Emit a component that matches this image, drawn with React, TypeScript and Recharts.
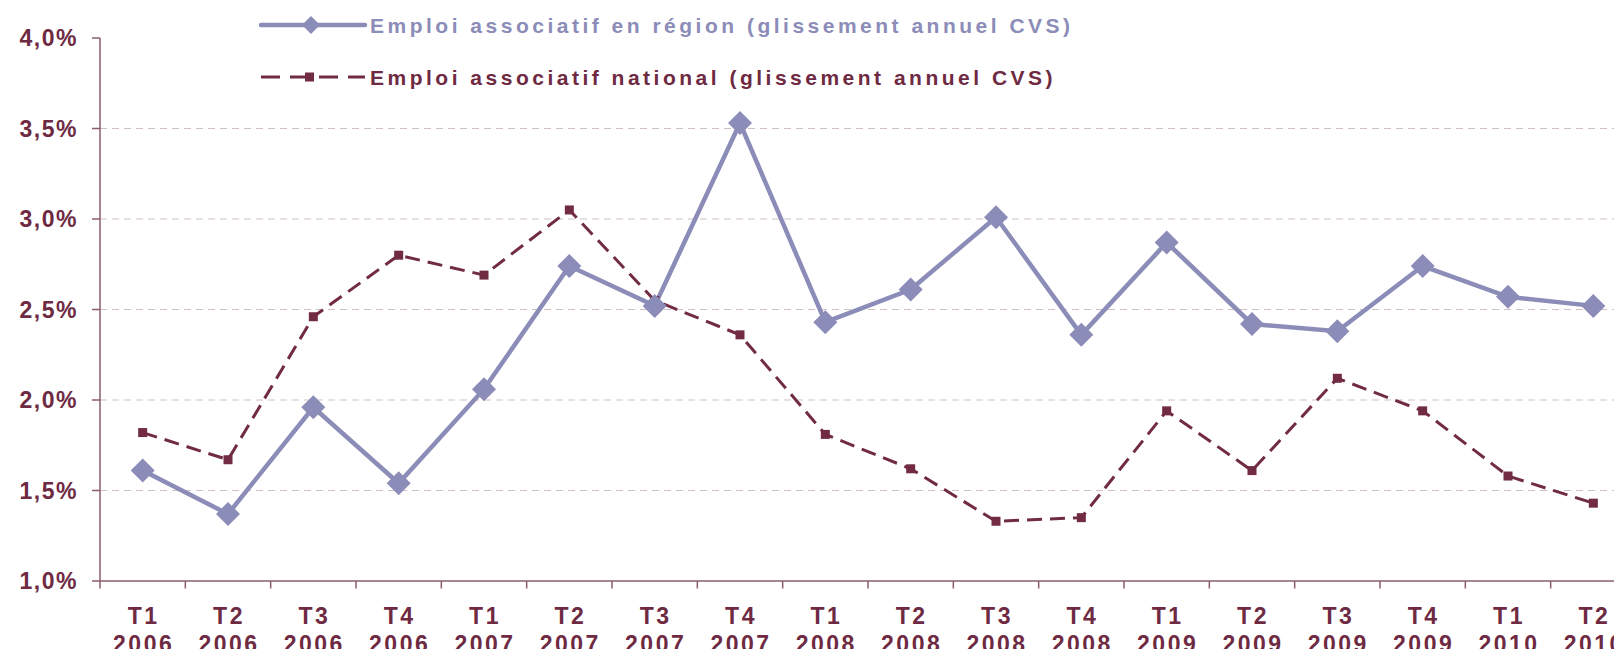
import React from 'react';
import { LineChart, Line, XAxis, YAxis, ReferenceLine, Legend } from 'recharts';

const quarters = ['T1', 'T2', 'T3', 'T4', 'T1', 'T2', 'T3', 'T4', 'T1', 'T2', 'T3', 'T4', 'T1', 'T2', 'T3', 'T4', 'T1', 'T2'];
const years = ['2006', '2006', '2006', '2006', '2007', '2007', '2007', '2007', '2008', '2008', '2008', '2008', '2009', '2009', '2009', '2009', '2010', '2010'];
const regionValues = [1.61, 1.37, 1.96, 1.54, 2.06, 2.74, 2.52, 3.53, 2.43, 2.61, 3.01, 2.36, 2.87, 2.42, 2.38, 2.74, 2.57, 2.52];
const nationalValues = [1.82, 1.67, 2.46, 2.80, 2.69, 3.05, 2.55, 2.36, 1.81, 1.62, 1.33, 1.35, 1.94, 1.61, 2.12, 1.94, 1.58, 1.43];
const yTicks = [1, 1.5, 2, 2.5, 3, 3.5, 4];
const gridValues = [1.5, 2, 2.5, 3, 3.5];

const regionLabel = 'Emploi associatif en région (glissement annuel CVS)';
const nationalLabel = 'Emploi associatif national (glissement annuel CVS)';

const REGION = '#8C8CB8';
const NATIONAL = '#712B43';
const AXIS = '#8A5C6C';
const TEXT = '#6E2A42';
const FONT = '"Liberation Sans", Arial, sans-serif';

const CHART_W = 1636;
const Y_W = 100;
const STEP = (CHART_W - Y_W) / quarters.length;

const data = quarters.map((q, i) => ({
  label: `${q} ${years[i]}`,
  q,
  year: years[i],
  region: regionValues[i],
  national: nationalValues[i],
}));

const fmt = (v: number) => v.toFixed(1).replace('.', ',') + '%';

const Diamond = (props: any) => {
  const { cx, cy, index } = props;
  if (cx == null || cy == null) return <g key={`d${index}`} />;
  const r = 12;
  return <path key={`d${index}`} d={`M${cx},${cy - r}L${cx + r},${cy}L${cx},${cy + r}L${cx - r},${cy}Z`} fill={REGION} />;
};

const Square = (props: any) => {
  const { cx, cy, index } = props;
  if (cx == null || cy == null) return <g key={`s${index}`} />;
  return <rect key={`s${index}`} x={cx - 4.5} y={cy - 4.5} width={9} height={9} fill={NATIONAL} />;
};

// category labels sit between tick marks (Excel style), on two lines
const XTick = (props: any) => {
  const { x, y, index } = props;
  const d = data[index];
  const bx = x - STEP / 2;
  return (
    <g>
      <line x1={bx} y1={y} x2={bx} y2={y + 7.5} stroke={AXIS} strokeWidth={1.5} />
      <text x={x + 1} y={y + 43} textAnchor="middle" fill={TEXT} fontSize={23} fontWeight="bold" letterSpacing={2.5} fontFamily={FONT}>{d.q}</text>
      <text x={x + 1} y={y + 71} textAnchor="middle" fill={TEXT} fontSize={23} fontWeight="bold" letterSpacing={2.5} fontFamily={FONT}>{d.year}</text>
    </g>
  );
};

const LegendBox = () => (
  <svg width={900} height={100} style={{ display: 'block' }}>
    <line x1={2} y1={25} x2={106} y2={25} stroke={REGION} strokeWidth={4.5} strokeLinecap="round" />
    <path d="M52,16L61,25L52,34L43,25Z" fill={REGION} />
    <text x={111} y={32.5} fill={REGION} fontSize={21} fontWeight="bold" letterSpacing={3.5} fontFamily={FONT}>{regionLabel}</text>
    <line x1={2} y1={77} x2={106} y2={77} stroke={NATIONAL} strokeWidth={3} strokeDasharray="19 10" />
    <rect x={46} y={72.5} width={9} height={9} fill={NATIONAL} />
    <text x={111} y={84.5} fill={TEXT} fontSize={21} fontWeight="bold" letterSpacing={3.5} fontFamily={FONT}>{nationalLabel}</text>
  </svg>
);

export default function App() {
  return (
    <div style={{ margin: -8, width: 1622, height: 657, overflow: 'hidden', background: '#fff' }}>
      <LineChart width={CHART_W} height={657} data={data} margin={{ top: 38, right: 0, bottom: 0, left: 0 }}>
        {gridValues.map((v) => (
          <ReferenceLine key={v} y={v} stroke="#D2BFC5" strokeDasharray="7 5" strokeWidth={1.2} />
        ))}
        <XAxis
          dataKey="label"
          interval={0}
          height={76}
          padding={{ left: STEP / 2, right: STEP / 2 }}
          tickSize={0}
          tickMargin={0}
          tickLine={false}
          axisLine={{ stroke: AXIS, strokeWidth: 1.5 }}
          tick={<XTick />}
        />
        <YAxis
          width={Y_W}
          domain={[1, 4]}
          ticks={yTicks}
          interval={0}
          tickFormatter={fmt}
          tickSize={8}
          tickMargin={14}
          axisLine={{ stroke: AXIS, strokeWidth: 1.5 }}
          tickLine={{ stroke: AXIS, strokeWidth: 1.5 }}
          tick={{ fill: TEXT, fontSize: 23, fontWeight: 'bold', fontFamily: FONT, letterSpacing: 1.5 }}
        />
        <Legend
          layout="vertical"
          align="center"
          verticalAlign="middle"
          wrapperStyle={{ top: 0, left: 259, width: 900 }}
          content={<LegendBox />}
        />
        <Line
          dataKey="national"
          stroke={NATIONAL}
          strokeWidth={3}
          strokeDasharray="15 8"
          dot={Square}
          activeDot={false}
          isAnimationActive={false}
        />
        <Line
          dataKey="region"
          stroke={REGION}
          strokeWidth={4.5}
          dot={Diamond}
          activeDot={false}
          isAnimationActive={false}
        />
      </LineChart>
    </div>
  );
}
